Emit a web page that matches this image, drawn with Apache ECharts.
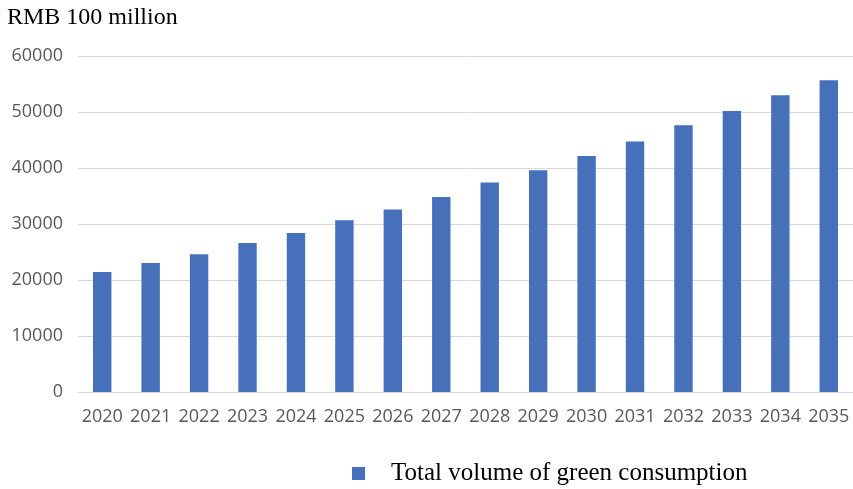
<!DOCTYPE html>
<html>
<head>
<meta charset="utf-8">
<script src="https://cdn.jsdelivr.net/npm/echarts@6/dist/echarts.min.js"></script>
<style>html,body{margin:0;padding:0;background:#fff}#c{width:853px;height:489px}</style>
</head>
<body>
<div id="c"></div>
<script>
var years = ['2020','2021','2022','2023','2024','2025','2026','2027','2028','2029','2030','2031','2032','2033','2034','2035'];
var greenConsumption = [21430,23040,24590,26610,28390,30660,32570,34820,37390,39590,42140,44710,47620,50180,53000,55660];
var seriesName = 'Total volume of green consumption';
var unitLabel = 'RMB 100 million';

var chart = echarts.init(document.getElementById('c'));
chart.setOption({
  animation: false,
  backgroundColor: '#fff',
  title: {
    text: unitLabel,
    left: 7, top: 6, padding: 0,
    textStyle: {fontFamily: 'Liberation Serif', fontSize: 24, fontWeight: 'normal', color: '#000'}
  },
  legend: {
    data: [seriesName],
    left: 352, top: 461, padding: 0,
    itemWidth: 13, itemHeight: 13,
    icon: 'rect',
    textStyle: {fontFamily: 'Liberation Serif', fontSize: 25, color: '#000', padding: [0,0,0,21]}
  },
  grid: {left: 78, right: 0, top: 56, bottom: 97, containLabel: false},
  xAxis: {
    type: 'category',
    data: years,
    axisLine: {lineStyle: {color: '#d9d9d9', width: 1}},
    axisTick: {show: false},
    axisLabel: {fontFamily: 'Open Sans', fontSize: 18, color: '#595959', margin: 16, interval: 0}
  },
  yAxis: {
    type: 'value',
    min: 0, max: 60000, interval: 10000,
    axisLine: {show: false},
    axisTick: {show: false},
    splitLine: {lineStyle: {color: '#d9d9d9', width: 1}},
    axisLabel: {fontFamily: 'Open Sans', fontSize: 18, color: '#595959', margin: 15,
      formatter: function (v) { return String(v); }}
  },
  series: [{
    name: seriesName,
    type: 'bar',
    data: greenConsumption,
    barWidth: '38%',
    itemStyle: {color: '#4670BA'}
  }]
});
</script>
</body>
</html>
